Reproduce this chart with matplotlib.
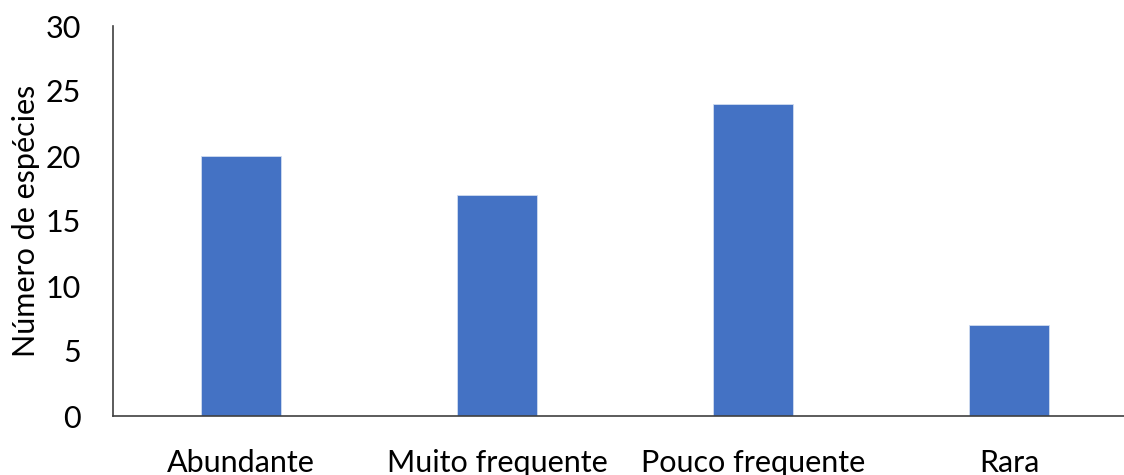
import matplotlib.pyplot as plt

categorias = ["Abundante", "Muito frequente", "Pouco frequente", "Rara"]
especies = [20, 17, 24, 7]
yticks = [0, 5, 10, 15, 20, 25, 30]

plt.rcParams['font.family'] = ['Lato', 'DejaVu Sans']

fig = plt.figure(figsize=(11.24, 4.75), dpi=100)
# eixo cortado à direita, como no original
ax = fig.add_axes([113 / 1124, 59 / 475, 1024 / 1124, 390 / 475])

x = range(len(categorias))
ax.bar(x, especies, width=0.31, color="#4472C4", edgecolor="#D0DCF0", linewidth=0.6)

ax.set_xlim(-0.5, 3.5)
ax.set_ylim(0, 30)
ax.set_yticks(yticks)
ax.set_xticks(list(x))
ax.set_xticklabels(categorias)

for s in ["top", "right"]:
    ax.spines[s].set_visible(False)
for s in ["left", "bottom"]:
    ax.spines[s].set_color("#404040")
    ax.spines[s].set_linewidth(1.2)

ax.tick_params(axis="both", length=0, labelsize=22, colors="black")
ax.tick_params(axis="y", pad=23)
ax.tick_params(axis="x", pad=24)
ax.set_ylabel("Número de espécies", fontsize=22, labelpad=4)

fig.savefig("out.png", dpi=100)
